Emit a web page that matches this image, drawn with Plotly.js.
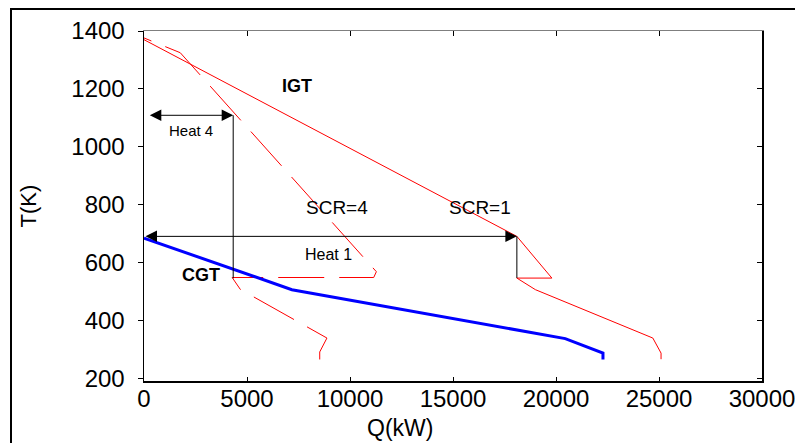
<!DOCTYPE html>
<html>
<head>
<meta charset="utf-8">
<script src="https://cdn.plot.ly/plotly-3.0.1.min.js"></script>
<style>
  html, body { margin: 0; padding: 0; background: #fff; overflow: hidden; }
  #wrap { position: relative; width: 795px; height: 443px; }
  #chart { position: absolute; left: 0; top: 0; width: 795px; height: 443px; }
  #frame { position: absolute; left: 10px; top: 8px; width: 800px; height: 450px;
           border-top: 2.5px solid #000; border-left: 2.5px solid #000; pointer-events: none; }
</style>
</head>
<body>
<div id="wrap">
  <div id="chart"></div>
  <div id="frame"></div>
</div>
<script>
// ---- data (Q in kW, T in K) ----
const igtQ = [0, 18100, 19800, 18100, 19000, 24700, 25100, 25100];
const igtT = [1370, 691, 547, 547, 507, 340, 288, 267];

const scr4Q = [0, 1760, 11280, 11150, 4280, 4675, 8880, 8530, 8530];
const scr4T = [1376, 1325, 569, 549, 549, 508, 340, 292, 266];

const cgtQ = [0, 7180, 20450, 22280, 22280];
const cgtT = [685, 507, 338, 288, 266];

// heat-duty arrows: [Qstart, Qend], T level
const heat1Q = [0, 18100];
const heat1T = 691;
const heat4Q = [210, 4330];
const heat4T = 1109;

// vertical boundary lines
const heat1VertQ = [18100, 18100];
const heat1VertT = [691, 547];
const heat4VertQ = [4330, 4330];
const heat4VertT = [1109, 546];

// tick labels
const xTicks = [0, 5000, 10000, 15000, 20000, 25000, 30000];
const yTicks = [200, 400, 600, 800, 1000, 1200, 1400];

// text labels
const labelText = ['IGT', 'Heat 4', 'SCR=4', 'SCR=1', 'Heat 1', 'CGT'];
const labelQ    = [7450, 2270, 9380, 16290, 8950, 2760];
const labelT    = [1209, 1056, 791, 792, 630, 556];
const labelSize = [18, 15, 19, 19, 16, 18];
const labelBold = [true, false, false, false, false, true];

const FONT = 'Liberation Sans, Arial, Helvetica, sans-serif';

const traces = [
  { x: igtQ, y: igtT, mode: 'lines', line: { color: '#ff0000', width: 1 }, name: 'IGT' },
  // drawn from the cold end so the dash phase matches the original
  { x: scr4Q.slice().reverse(), y: scr4T.slice().reverse(), mode: 'lines',
    line: { color: '#ff0000', width: 1, dash: '46px,15px' }, name: 'SCR=4' },
  { x: cgtQ, y: cgtT, mode: 'lines', line: { color: '#0000ff', width: 3 }, name: 'CGT' },
  { x: heat1VertQ, y: heat1VertT, mode: 'lines', line: { color: '#000', width: 1 } },
  { x: heat4VertQ, y: heat4VertT, mode: 'lines', line: { color: '#000', width: 1 } },
  { x: [], y: [], xaxis: 'x2', yaxis: 'y2', mode: 'lines' }
];

const annotations = [];
[[heat1Q, heat1T], [heat4Q, heat4T]].forEach(([q, t]) => {
  annotations.push({
    x: q[1], y: t, ax: q[0], ay: t, xref: 'x', yref: 'y', axref: 'x', ayref: 'y',
    text: '', showarrow: true, arrowside: 'end+start',
    arrowhead: 2, startarrowhead: 2, arrowsize: 2.3, startarrowsize: 2.3,
    arrowwidth: 1, arrowcolor: '#000'
  });
});
labelText.forEach((t, i) => {
  annotations.push({
    x: labelQ[i], y: labelT[i], xref: 'x', yref: 'y', showarrow: false,
    text: labelBold[i] ? '<b>' + t + '</b>' : t,
    font: { family: FONT, size: labelSize[i], color: '#000' },
    xanchor: 'center', yanchor: 'middle'
  });
});
annotations.push({
  text: 'Q(kW)', xref: 'paper', yref: 'paper',
  x: (400 - 144) / 618, y: -(428 - 381) / 350, xanchor: 'center', yanchor: 'middle',
  showarrow: false, font: { family: FONT, size: 23, color: '#000' }
});

const layout = {
  width: 795, height: 443,
  margin: { l: 144, r: 33, t: 31, b: 62, pad: 0 },
  paper_bgcolor: '#fff', plot_bgcolor: '#fff',
  showlegend: false,
  font: { family: FONT, color: '#000' },
  xaxis: {
    range: [0, 30000], tickvals: xTicks, ticktext: xTicks.map(String),
    ticks: 'inside', ticklen: 4, tickwidth: 1, tickcolor: '#000',
    showline: true, linecolor: '#000', linewidth: 1.5, mirror: false,
    showgrid: false, zeroline: false, ticklabeloverflow: 'allow', ticklabelstandoff: -4,
    tickfont: { family: FONT, size: 24, color: '#000' }
  },
  xaxis2: {
    overlaying: 'x', side: 'top', range: [0, 30000], tickvals: xTicks,
    ticks: 'inside', ticklen: 5, tickwidth: 1, tickcolor: '#000',
    showticklabels: false, showline: true, linecolor: '#7f7f7f', linewidth: 1.5,
    showgrid: false, zeroline: false
  },
  yaxis: {
    range: [191.7, 1400], tickvals: yTicks, ticktext: yTicks.map(String),
    ticks: 'outside', ticklen: 5, tickwidth: 1, tickcolor: '#000',
    showline: true, linecolor: '#000', linewidth: 1.5, mirror: false,
    showgrid: false, zeroline: false, ticklabelstandoff: 8, ticklabeloverflow: 'allow',
    tickfont: { family: FONT, size: 24, color: '#000' },
    title: { text: 'T(K)', font: { family: FONT, size: 22, color: '#000' }, standoff: 28 }
  },
  yaxis2: {
    overlaying: 'y', side: 'right', range: [191.7, 1400], tickvals: yTicks,
    ticks: 'inside', ticklen: 5, tickwidth: 1, tickcolor: '#000',
    showticklabels: false, showline: true, linecolor: '#000', linewidth: 1.5,
    showgrid: false, zeroline: false
  },
  annotations: annotations
};

Plotly.newPlot('chart', traces, layout, { staticPlot: true, displayModeBar: false });
</script>
</body>
</html>
